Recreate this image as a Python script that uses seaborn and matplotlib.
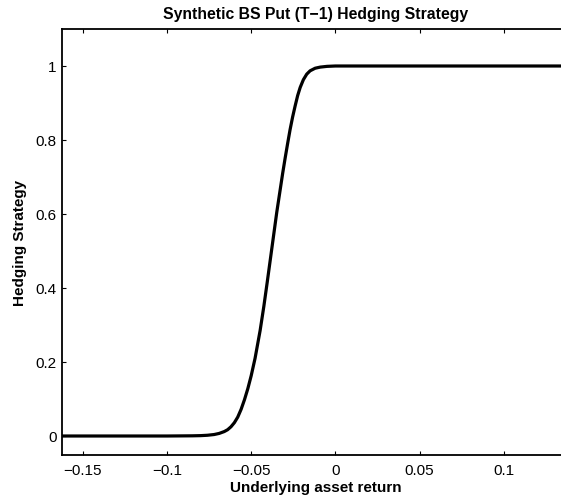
import matplotlib
matplotlib.use("Agg")
import matplotlib.pyplot as plt
import seaborn as sns
import pandas as pd

# Values
x_return = [-0.1624, -0.12, -0.10, -0.0850, -0.0800, -0.0760, -0.0720, -0.0690,
            -0.0660, -0.0640, -0.0620, -0.0600, -0.0580, -0.0560, -0.0540,
            -0.0520, -0.0500, -0.0477, -0.0447, -0.0425, -0.0405, -0.0390,
            -0.0378, -0.0363, -0.0348, -0.0328, -0.0313, -0.0298, -0.0283,
            -0.0269, -0.0254, -0.0239, -0.0224, -0.0209, -0.0190, -0.0170,
            -0.0150, -0.0120, -0.0090, -0.0050, 0.0, 0.05, 0.10, 0.1394]
hedge = [0.0, 0.0, 0.0, 0.0005, 0.001, 0.002, 0.004, 0.007,
         0.012, 0.017, 0.025, 0.036, 0.051, 0.072, 0.098,
         0.128, 0.163, 0.210, 0.285, 0.350, 0.415, 0.465,
         0.505, 0.555, 0.605, 0.665, 0.710, 0.752, 0.792,
         0.828, 0.862, 0.892, 0.920, 0.942, 0.963, 0.978,
         0.987, 0.994, 0.997, 0.999, 1.0, 1.0, 1.0, 1.0]

x_ticks = [-0.15, -0.1, -0.05, 0, 0.05, 0.1]
x_ticklabels = ["\u22120.15", "\u22120.1", "\u22120.05", "0", "0.05", "0.1"]
y_ticks = [0, 0.2, 0.4, 0.6, 0.8, 1]
y_ticklabels = ["0", "0.2", "0.4", "0.6", "0.8", "1"]

title = "Synthetic BS Put (T\u22121) Hedging Strategy"
xlabel = "Underlying asset return"
ylabel = "Hedging Strategy"

sns.set_theme(style="ticks")
plt.rcParams['font.family'] = ['Liberation Sans', 'DejaVu Sans']
plt.rcParams['text.color'] = 'black'
plt.rcParams['axes.labelcolor'] = 'black'

W, H = 561, 502
fig = plt.figure(figsize=(W / 100, H / 100), dpi=100)
left, right, top, bottom = 62, 570, 30, 455.5
ax = fig.add_axes([left / W, 1 - bottom / H, (right - left) / W, (bottom - top) / H])

df = pd.DataFrame({"x": x_return, "y": hedge})
sns.lineplot(data=df, x="x", y="y", ax=ax, color="black", linewidth=2.3, sort=False)

ax.set_xlim(-0.1624, 0.1394)
ax.set_ylim(-0.05, 1.1)
ax.set_xticks(x_ticks)
ax.set_xticklabels(x_ticklabels)
ax.set_yticks(y_ticks)
ax.set_yticklabels(y_ticklabels)

for s in ax.spines.values():
    s.set_visible(True)
    s.set_linewidth(1.3)
    s.set_color("black")

ax.tick_params(axis="both", direction="in", length=3.2, width=0.8, colors="black",
               labelsize=11, top=True, right=True)
ax.tick_params(axis="x", pad=6)
ax.tick_params(axis="y", pad=4)

ax.set_title(title, fontsize=11.3, fontweight="bold", pad=8, color="black")
ax.set_xlabel(xlabel, fontsize=11, fontweight="bold", labelpad=2, color="black")
ax.set_ylabel(ylabel, fontsize=11, fontweight="bold", labelpad=6, color="black")

fig.savefig("out.png", dpi=100)
